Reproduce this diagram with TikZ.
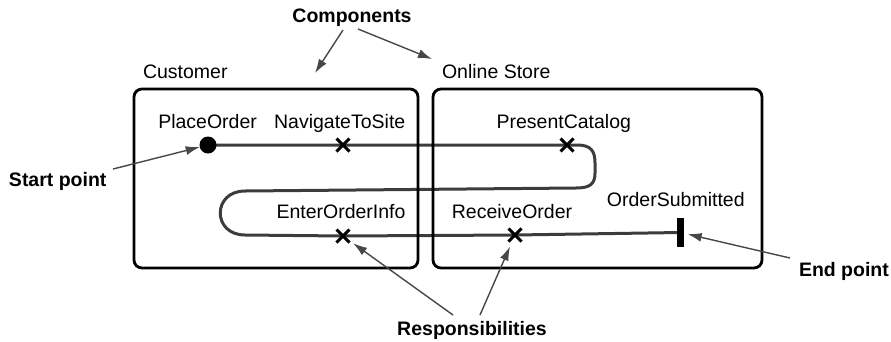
\documentclass[tikz,border=0pt]{standalone}
\usepackage{fontspec}
\setmainfont{Liberation Sans}
\usetikzlibrary{arrows.meta,shapes.misc,backgrounds}
\definecolor{routegray}{HTML}{3C3C3C}
\definecolor{pointergray}{HTML}{474747}
\begin{document}
\begin{tikzpicture}[x=1pt,y=-1pt,
  compbox/.style={draw=black, line width=2.8pt, rounded corners=8pt},
  lbl/.style={anchor=base, inner sep=0pt, outer sep=0pt, text=black,
    font=\fontsize{19.5}{22}\selectfont},
  callout/.style={lbl, font=\fontsize{19.5}{22}\selectfont\bfseries},
  resp/.style={cross out, draw=black, line width=3pt, minimum size=13pt,
    inner sep=0pt, outer sep=0pt},
  route/.style={draw=routegray, line width=3pt},
  pointer/.style={draw=pointergray, line width=1.4pt,
    -{Latex[length=14pt,width=9pt]}},
]
\useasboundingbox (0,0) rectangle (891,341);

% components
\draw[compbox] (134,89) rectangle (418,268);
\draw[compbox] (433,89) rectangle (762,268);
\node[lbl, anchor=base west] (custlbl) at (143,78) {Customer};
\node[lbl, anchor=base west] (storelbl) at (442,78) {Online Store};

% start and end of the path
\node[circle, fill=black, minimum size=17pt, inner sep=0pt, outer sep=0pt] (po) at (208,145) {};
\node[rectangle, fill=black, minimum width=7.5pt, minimum height=29pt, inner sep=0pt, outer sep=0pt] (os) at (680.5,232.5) {};

% responsibilities
\node[resp] (nav) at (343,145) {};
\node[resp] (cat) at (567,145) {};
\node[resp] (eoi) at (343,236) {};
\node[resp] (rcv) at (515,235) {};

% element names
\node[lbl] at (207.6,128) {PlaceOrder};
\node[lbl] at (339.7,128) {NavigateToSite};
\node[lbl] at (563.8,128) {PresentCatalog};
\node[lbl] at (341,218.3) {EnterOrderInfo};
\node[lbl] at (512,218.3) {ReceiveOrder};
\node[lbl] at (675.8,206) {OrderSubmitted};

% the path itself, beneath the markers
\begin{scope}[on background layer]
\draw[route] (po.center) -- (nav.center) -- (cat.center)
  -- (577,145) .. controls (591,145) and (595,151) .. (595,163)
  -- (595,173) .. controls (595,184) and (590,188) .. (576,188)
  -- (245,191) .. controls (212,191) and (212,235) .. (245,235)
  -- (eoi.center) -- (rcv.center) -- (os.center);
\end{scope}

% callouts
\node[callout] (comps) at (352,22) {Components};
\node[callout, anchor=base west] (startlbl) at (9,186) {Start point};
\node[callout, anchor=base west] (endlbl) at (799,276) {End point};
\node[callout] (resps) at (472,335) {Responsibilities};

\coordinate (comps-a) at (343,30);
\coordinate (comps-b) at (358,29);
\coordinate (cust-tip) at (315,73);
\coordinate (store-tip) at (432,59);
\coordinate (start-tail) at (113,169);
\coordinate (end-tail) at (790,258);
\coordinate (resp-a) at (453,315);
\coordinate (resp-b) at (480,315);

\draw[pointer] (comps-a) -- (cust-tip);
\draw[pointer] (comps-b) -- (store-tip);
\draw[pointer] (start-tail) -- (po);
\draw[pointer, shorten >=3.5pt] (end-tail) -- (os);
\draw[pointer, shorten >=4.5pt] (resp-a) -- (eoi);
\draw[pointer, shorten >=5.5pt] (resp-b) -- (rcv);
\end{tikzpicture}
\end{document}
